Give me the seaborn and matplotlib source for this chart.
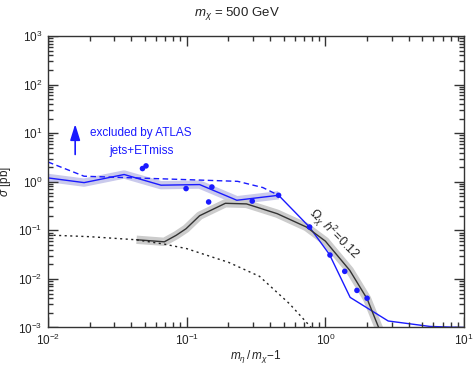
import matplotlib
matplotlib.use("Agg")
import matplotlib.pyplot as plt
import seaborn as sns
import pandas as pd
from matplotlib.collections import LineCollection
from matplotlib.ticker import LogLocator, NullFormatter

sns.set_theme(style="ticks")
plt.rcParams['font.family'] = ['Liberation Sans', 'DejaVu Sans']
plt.rcParams['mathtext.fontset'] = 'custom'
plt.rcParams['mathtext.rm'] = 'Liberation Sans'
plt.rcParams['mathtext.it'] = 'Liberation Sans:italic'

# ATLAS limit (solid blue, with band)
limit_x = [0.01, 0.0182, 0.0354, 0.0653, 0.124, 0.230, 0.46, 0.766, 1.07, 1.51, 2.84, 5.69, 10.0]
limit_y = [1.20, 0.96, 1.41, 0.85, 0.875, 0.416, 0.527, 0.118, 0.032, 0.00416, 0.00136, 0.00105, 0.00100]
n_band = 7

# expected limit (dashed blue)
exp_x = [0.01, 0.0182, 0.233, 0.354, 0.46]
exp_y = [2.55, 1.30, 1.02, 0.76, 0.527]

# blue points
pts_x = [0.048, 0.0509, 0.099, 0.152, 0.144, 0.297, 0.46, 0.77, 1.08, 1.38, 1.69, 2.0]
pts_y = [1.87, 2.12, 0.724, 0.78, 0.384, 0.40, 0.527, 0.117, 0.031, 0.0143, 0.0058, 0.0040]

# relic density line (black, with grey band)
relic_x = [0.0435, 0.069, 0.084, 0.099, 0.124, 0.19, 0.27, 0.45, 0.73, 1.0, 1.5, 2.0, 2.5]
relic_y = [0.064, 0.058, 0.079, 0.108, 0.20, 0.36, 0.35, 0.22, 0.117, 0.060, 0.015, 0.0039, 0.0008]

# dotted black line
dot_x = [0.01, 0.02, 0.043, 0.069, 0.1, 0.154, 0.2, 0.335, 0.55, 0.79, 0.9]
dot_y = [0.080, 0.074, 0.064, 0.052, 0.042, 0.028, 0.022, 0.0113, 0.0031, 0.0010, 0.0006]

xlim = (0.01, 10)
ylim = (1e-3, 1e3)

blue = '#1a1aff'
dark = '#333333'

fig = plt.figure(figsize=(4.73, 3.68), dpi=100)
ax = fig.add_axes([0.1015, 0.1101, 0.8795, 0.7920])
ax.set_xscale('log')
ax.set_yscale('log')

lim = pd.DataFrame({'x': limit_x, 'y': limit_y})
rel = pd.DataFrame({'x': relic_x, 'y': relic_y})

# bands drawn as thick translucent lines
sns.lineplot(data=lim.iloc[:n_band], x='x', y='y', ax=ax, color='#cacaec', lw=6,
             solid_capstyle='butt', estimator=None, sort=False)
sns.lineplot(data=rel, x='x', y='y', ax=ax, color='#cccccc', lw=6,
             solid_capstyle='butt', estimator=None, sort=False)

sns.lineplot(data=lim, x='x', y='y', ax=ax, color=blue, lw=1.0, estimator=None, sort=False)
sns.lineplot(x=exp_x, y=exp_y, ax=ax, color=blue, lw=1.0, linestyle=(0, (4, 2.5)),
             estimator=None, sort=False)
sns.lineplot(data=rel, x='x', y='y', ax=ax, color=dark, lw=1.0, estimator=None, sort=False)
sns.lineplot(x=dot_x, y=dot_y, ax=ax, color='#222222', lw=1.0, linestyle=(0, (1.5, 2.5)),
             estimator=None, sort=False)
sns.scatterplot(x=pts_x, y=pts_y, ax=ax, color=blue, s=16, edgecolor='none', zorder=5)

ax.set_xlim(*xlim)
ax.set_ylim(*ylim)

ax.annotate('', xy=(0.0157, 17.5), xytext=(0.0157, 3.2),
            arrowprops=dict(arrowstyle='-|>,head_width=0.25,head_length=0.8', color=blue, lw=1.2))
ax.text(0.047, 9.9, 'excluded by ATLAS', color=blue, fontsize=8.5, ha='center', va='center')
ax.text(0.047, 4.35, 'jets+ETmiss', color=blue, fontsize=8.5, ha='center', va='center')
ax.text(1.15, 0.085, r'$\Omega_\chi\ h^2\!=\!0.12$', color='#222222', fontsize=9,
        rotation=-45, ha='center', va='center', rotation_mode='anchor')

for s in ax.spines.values():
    s.set_linewidth(1.0)
    s.set_color(dark)
    s.set_visible(True)

ax.xaxis.set_major_locator(LogLocator(base=10, numticks=10))
ax.yaxis.set_major_locator(LogLocator(base=10, numticks=10))
ax.xaxis.set_minor_formatter(NullFormatter())
ax.yaxis.set_minor_formatter(NullFormatter())
ax.tick_params(which='both', length=0, labelsize=8.5, labelcolor='#222222', pad=4)
ax.tick_params(which='minor', bottom=False, left=False)

# inward ticks on all four sides, drawn as short segments
major = LogLocator(base=10, numticks=10)
minor = LogLocator(base=10, subs=(2, 3, 4, 5, 6, 7, 8, 9), numticks=20)
mx = [v for v in major.tick_values(*xlim) if xlim[0] <= v <= xlim[1]]
nx = [v for v in minor.tick_values(*xlim) if xlim[0] < v < xlim[1]]
my = [v for v in major.tick_values(*ylim) if ylim[0] <= v <= ylim[1]]
ny = [v for v in minor.tick_values(*ylim) if ylim[0] < v < ylim[1]]
hx_major, hx_minor = 10 / 291.5, 5 / 291.5
wy_major, wy_minor = 10 / 416, 5 / 416

segs_x = []
for vals, h in ((mx, hx_major), (nx, hx_minor)):
    for v in vals:
        segs_x.append([(v, 0), (v, h)])
        segs_x.append([(v, 1), (v, 1 - h)])
segs_y = []
for vals, w in ((my, wy_major), (ny, wy_minor)):
    for v in vals:
        segs_y.append([(0, v), (w, v)])
        segs_y.append([(1, v), (1 - w, v)])
ax.add_collection(LineCollection(segs_x, colors=dark, linewidths=1.0,
                                 transform=ax.get_xaxis_transform(), zorder=6))
ax.add_collection(LineCollection(segs_y, colors=dark, linewidths=1.0,
                                 transform=ax.get_yaxis_transform(), zorder=6))
ax.set_xlim(*xlim)
ax.set_ylim(*ylim)

ax.set_xlabel(r'$m_\eta\,/\,m_\chi\!-\!1$', fontsize=8.5, color='#222222', labelpad=0)
ax.set_ylabel(r'$\sigma$ [pb]', fontsize=8.5, color='#222222')
ax.yaxis.set_label_coords(-0.085, 0.5)
fig.text(0.5, 0.963, r'$m_\chi$ = 500 GeV', ha='center', va='center', fontsize=9.5, color='#222222')

fig.savefig('out.png', dpi=100)
